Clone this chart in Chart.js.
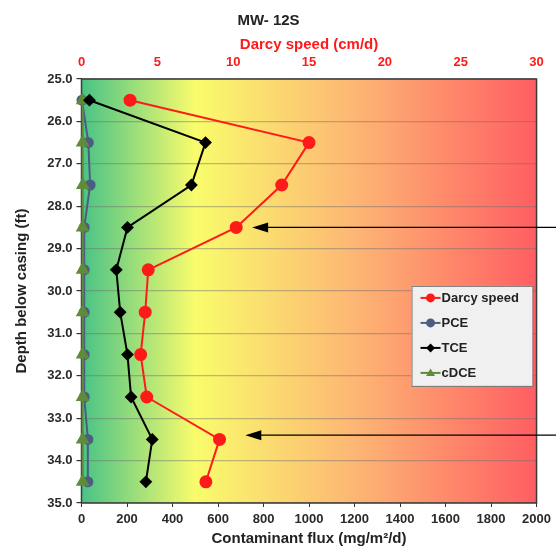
<!DOCTYPE html>
<html>
<head>
<meta charset="utf-8">
<script src="https://cdn.jsdelivr.net/npm/chart.js@4.4.0/dist/chart.umd.min.js"></script>
<style>
  html, body { margin: 0; padding: 0; background: #fff; }
  #wrap { width: 556px; height: 548px; }
</style>
</head>
<body>
<div id="wrap"><canvas id="flux-chart"></canvas></div>
<script>
// Depth below casing (ft) of each sample
const depths = [25.5, 26.5, 27.5, 28.5, 29.5, 30.5, 31.5, 32.5, 33.5, 34.5];

// Darcy speed (cm/d), top axis
const darcySpeed = [3.2, 15.0, 13.2, 10.2, 4.4, 4.2, 3.9, 4.3, 9.1, 8.2];

// Contaminant flux (mg/m2/d), bottom axis
const pceFlux  = [2, 30, 38, 12, 12, 12, 12, 12, 28, 28];
const tceFlux  = [35, 545, 483, 202, 153, 170, 202, 218, 311, 283];
const cdceFlux = [5, 5, 6, 5, 5, 5, 5, 5, 5, 5];

// Arrows pointing at zones of interest (depth, flux where the head sits)
const arrowDepths = [28.5, 33.4];
const arrowFlux = [750, 720];

const FONT = "'Liberation Sans', Arial, sans-serif";

function toPoints(xs) {
    return xs.map((v, i) => ({ x: v, y: depths[i] }));
}

// colour band behind the plot
const gradientBackground = {
    id: 'gradientBackground',
    beforeDraw(chart) {
        const { ctx, chartArea: a } = chart;
        const g = ctx.createLinearGradient(a.left, 0, a.right, 0);
        g.addColorStop(0, '#48c386');
        g.addColorStop(0.25, '#f9fc6c');
        g.addColorStop(0.6, '#fdb674');
        g.addColorStop(1, '#ff5e62');
        ctx.save();
        ctx.fillStyle = g;
        ctx.fillRect(a.left, a.top, a.right - a.left, a.bottom - a.top);
        ctx.restore();
    },
    beforeDatasetsDraw(chart) {
        const { ctx, chartArea: a } = chart;
        ctx.save();
        ctx.strokeStyle = '#3a3a3a';
        ctx.lineWidth = 1.5;
        ctx.strokeRect(a.left, a.top, a.right - a.left, a.bottom - a.top);
        ctx.restore();
    }
};

// arrows + legend box
const extras = {
    id: 'extras',
    afterDraw(chart) {
        const { ctx, chartArea: a, scales } = chart;
        ctx.save();

        // arrows
        ctx.strokeStyle = '#000';
        ctx.fillStyle = '#000';
        ctx.lineWidth = 1.3;
        arrowDepths.forEach((d, i) => {
            const y = scales.y.getPixelForValue(d);
            const x = scales.x.getPixelForValue(arrowFlux[i]);
            ctx.beginPath();
            ctx.moveTo(chart.width, y);
            ctx.lineTo(x + 12, y);
            ctx.stroke();
            ctx.beginPath();
            ctx.moveTo(x, y);
            ctx.lineTo(x + 16, y - 5);
            ctx.lineTo(x + 16, y + 5);
            ctx.closePath();
            ctx.fill();
        });

        // legend
        const bx = a.right - 125, by = scales.y.getPixelForValue(29.88);
        const bw = 121, bh = 100;
        ctx.fillStyle = '#f0f0f0';
        ctx.fillRect(bx, by, bw, bh);
        ctx.strokeStyle = '#7a7a7a';
        ctx.lineWidth = 1;
        ctx.strokeRect(bx + 0.5, by + 0.5, bw, bh);

        ctx.font = 'bold 13px ' + FONT;
        ctx.textBaseline = 'middle';
        chart.data.datasets.forEach((ds, i) => {
            const y = by + 12 + i * 25;
            const x0 = bx + 9;
            ctx.strokeStyle = ds.borderColor;
            ctx.lineWidth = 2;
            ctx.beginPath();
            ctx.moveTo(x0, y);
            ctx.lineTo(x0 + 20, y);
            ctx.stroke();
            ctx.fillStyle = ds.backgroundColor;
            ctx.beginPath();
            const cx = x0 + 10, r = 4.5;
            if (ds.pointStyle === 'rectRot') {
                ctx.moveTo(cx, y - r); ctx.lineTo(cx + r, y);
                ctx.lineTo(cx, y + r); ctx.lineTo(cx - r, y);
            } else if (ds.pointStyle === 'triangle') {
                ctx.moveTo(cx, y - r); ctx.lineTo(cx + r, y + r * 0.7);
                ctx.lineTo(cx - r, y + r * 0.7);
            } else {
                ctx.arc(cx, y, r, 0, Math.PI * 2);
            }
            ctx.closePath();
            ctx.fill();
            ctx.fillStyle = '#222';
            ctx.fillText(ds.label, x0 + 21, y + 1);
        });
        ctx.restore();
    }
};

const ctx = document.getElementById('flux-chart');

new Chart(ctx, {
    type: 'scatter',
    data: {
        datasets: [
            {
                label: 'Darcy speed',
                data: toPoints(darcySpeed),
                xAxisID: 'x2',
                showLine: true,
                clip: false,
                borderColor: '#ff1a1a',
                backgroundColor: '#ff1a1a',
                borderWidth: 2,
                pointStyle: 'circle',
                pointRadius: 5.5,
                order: 0
            },
            {
                label: 'PCE',
                data: toPoints(pceFlux),
                xAxisID: 'x',
                showLine: true,
                clip: false,
                borderColor: '#4d5d82',
                backgroundColor: '#4d5d82',
                borderWidth: 2,
                pointStyle: 'circle',
                pointRadius: 4.5,
                order: 3
            },
            {
                label: 'TCE',
                data: toPoints(tceFlux),
                xAxisID: 'x',
                showLine: true,
                clip: false,
                borderColor: '#000',
                backgroundColor: '#000',
                borderWidth: 2,
                pointStyle: 'rectRot',
                pointRadius: 5,
                order: 1
            },
            {
                label: 'cDCE',
                data: toPoints(cdceFlux),
                xAxisID: 'x',
                showLine: true,
                clip: false,
                borderColor: '#5e8c38',
                backgroundColor: '#5e8c38',
                borderWidth: 2,
                pointStyle: 'triangle',
                pointRadius: 6,
                order: 2
            }
        ]
    },
    options: {
        responsive: true,
        maintainAspectRatio: false,
        animation: false,
        layout: { padding: { left: 0, right: 19, top: 0, bottom: 0 } },
        plugins: {
            legend: { display: false },
            tooltip: { enabled: false },
            title: {
                display: true,
                text: 'MW- 12S',
                color: '#222',
                font: { family: FONT, size: 15, weight: 'bold' },
                padding: { top: 12, bottom: 5 }
            }
        },
        scales: {
            x: {
                type: 'linear',
                position: 'bottom',
                min: 0,
                max: 2000,
                ticks: {
                    stepSize: 200,
                    color: '#2a2a2a',
                    padding: 5,
                    maxRotation: 0,
                    font: { family: FONT, size: 13, weight: 'bold' },
                    callback: v => String(v)
                },
                grid: { drawOnChartArea: false, tickLength: 4, color: '#333' },
                border: { display: false },
                title: {
                    display: true,
                    text: 'Contaminant flux (mg/m²/d)',
                    color: '#222',
                    font: { family: FONT, size: 15, weight: 'bold' },
                    padding: { top: 2, bottom: 0 }
                },
                afterFit(scale) { scale.height = 45; }
            },
            x2: {
                type: 'linear',
                position: 'top',
                min: 0,
                max: 30,
                ticks: {
                    stepSize: 5,
                    color: '#ff1a1a',
                    padding: 1,
                    maxRotation: 0,
                    font: { family: FONT, size: 13, weight: 'bold' },
                    callback: v => String(v)
                },
                grid: { display: false },
                border: { display: false },
                title: {
                    display: true,
                    text: 'Darcy speed (cm/d)',
                    color: '#ff1a1a',
                    font: { family: FONT, size: 15, weight: 'bold' },
                    padding: { top: 1, bottom: 2 }
                },
                afterFit(scale) { scale.height = 44; }
            },
            y: {
                type: 'linear',
                reverse: true,
                min: 25,
                max: 35,
                ticks: {
                    stepSize: 1,
                    color: '#2a2a2a',
                    padding: 4,
                    font: { family: FONT, size: 13, weight: 'bold' },
                    callback: v => v.toFixed(1)
                },
                grid: {
                    color: 'rgba(110, 110, 110, 0.45)',
                    lineWidth: 1.2,
                    tickLength: 5,
                    tickColor: '#333'
                },
                border: { display: false },
                title: {
                    display: true,
                    text: 'Depth below casing (ft)',
                    color: '#222',
                    font: { family: FONT, size: 15, weight: 'bold' },
                    padding: { top: 13, bottom: 0 }
                },
                afterFit(scale) { scale.width = 81.5; }
            }
        }
    },
    plugins: [gradientBackground, extras]
});
</script>
</body>
</html>
